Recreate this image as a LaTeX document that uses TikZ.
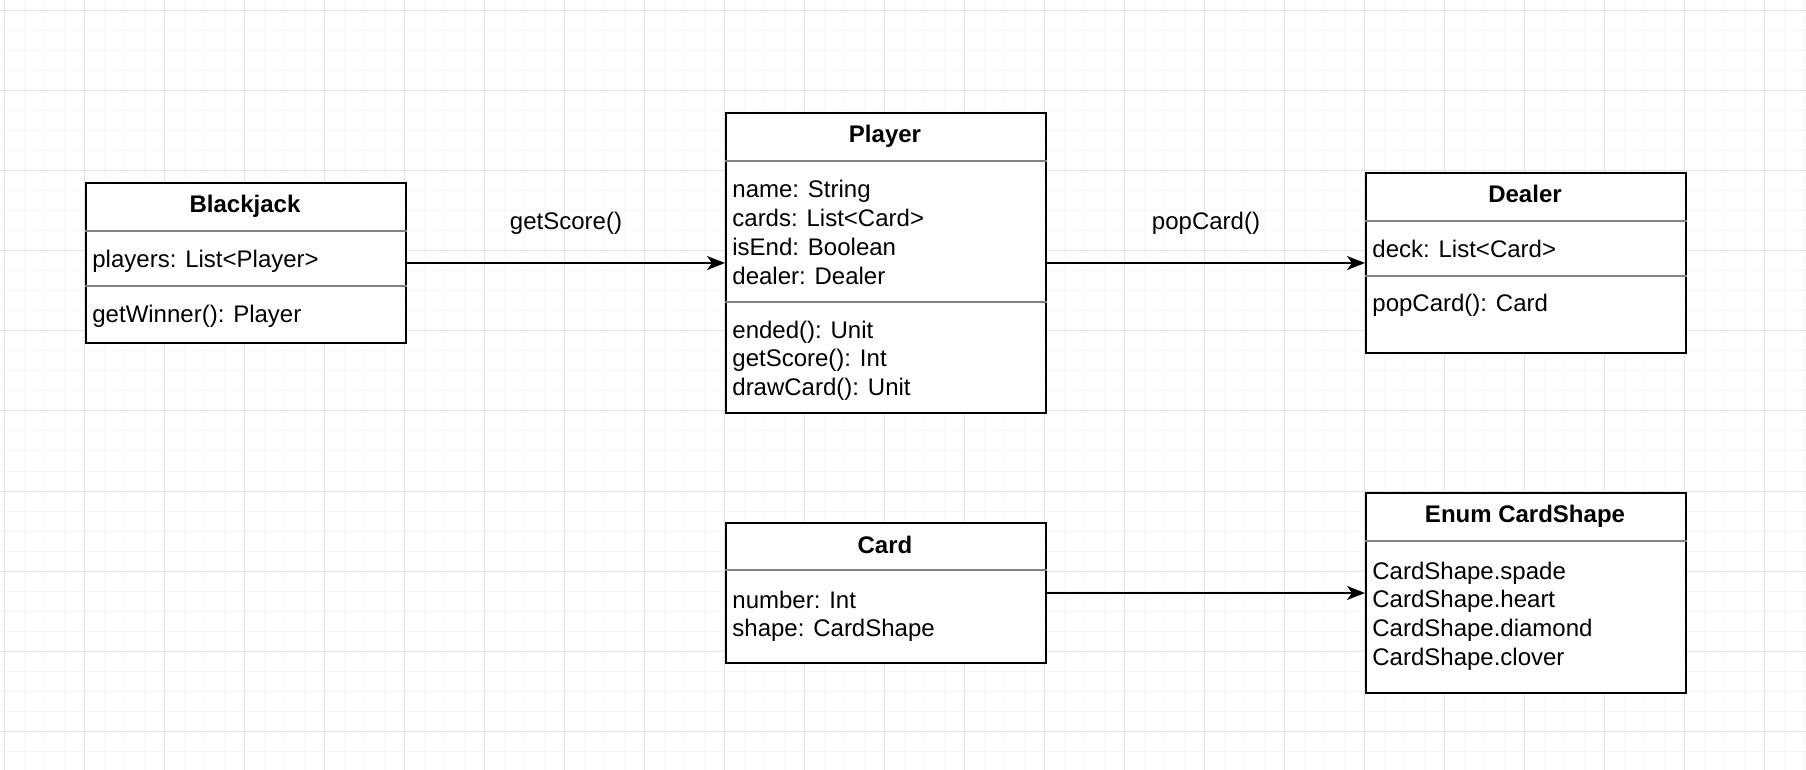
\documentclass[tikz,border=0pt]{standalone}
\usepackage{fontspec}
\setmainfont{Liberation Sans}
\usetikzlibrary{arrows.meta}

\definecolor{gridminor}{RGB}{246,246,246}
\definecolor{gridmajor}{RGB}{226,226,226}
\definecolor{sepgray}{RGB}{130,130,130}

\tikzset{
  classbox/.style={draw, line width=1pt, fill=white, anchor=north west, inner sep=0pt, minimum width=160pt},
  classname/.style={font=\bfseries\fontsize{12}{14.4}\selectfont, anchor=base, inner sep=0pt, yshift=-1pt},
  member/.style={font=\fontsize{12}{14.4}\selectfont, anchor=base west, align=left, inner sep=0pt, yshift=-1pt},
  divider/.style={draw=sepgray, line width=1pt},
  assoc/.style={-{Stealth[length=9pt,width=7pt,inset=2.5pt]}, line width=1pt},
  assoclabel/.style={font=\fontsize{12}{14.4}\selectfont, anchor=base, inner sep=0pt, yshift=16.5pt}
}

\begin{document}
\begin{tikzpicture}[x=0.5pt, y=-0.5pt]
  \useasboundingbox (0,0) rectangle (1806,770);

  % background grid
  \foreach \gx in {4,24,...,1804} \draw[gridminor, line width=0.5pt] (\gx,0) -- (\gx,770);
  \foreach \gy in {11,31,...,770} \draw[gridminor, line width=0.5pt] (0,\gy) -- (1806,\gy);
  \foreach \gx in {4,84,...,1804} \draw[gridmajor, line width=0.5pt] (\gx,0) -- (\gx,770);
  \foreach \gy in {11,91,...,770} \draw[gridmajor, line width=0.5pt] (0,\gy) -- (1806,\gy);

  % Blackjack
  \node[classbox, minimum height=80pt] (blackjack) at (85,182) {};
  \draw[divider] ([yshift=-24.5pt]blackjack.north west) -- ([yshift=-24.5pt]blackjack.north east);
  \draw[divider] ([yshift=-52pt]blackjack.north west) -- ([yshift=-52pt]blackjack.north east);
  \node[classname] (blackjackname) at (245,211) {Blackjack};
  \node[member] (blackjackattr) at (92,266) {players: List<Player>};
  \node[member] (blackjackop) at (92,321) {getWinner(): Player};

  % Player (multi-line nodes sit on their last baseline)
  \node[classbox, minimum height=150pt] (player) at (725,112) {};
  \draw[divider] ([yshift=-24.5pt]player.north west) -- ([yshift=-24.5pt]player.north east);
  \draw[divider] ([yshift=-95pt]player.north west) -- ([yshift=-95pt]player.north east);
  \node[classname] (playername) at (885,141) {Player};
  \node[member] (playerattr) at (732,282.4) {name: String\\cards: List<Card>\\isEnd: Boolean\\dealer: Dealer};
  \node[member] (playerop) at (732,393.6) {ended(): Unit\\getScore(): Int\\drawCard(): Unit};

  % Dealer
  \node[classbox, minimum height=90pt] (dealer) at (1365,172) {};
  \draw[divider] ([yshift=-24.5pt]dealer.north west) -- ([yshift=-24.5pt]dealer.north east);
  \draw[divider] ([yshift=-52pt]dealer.north west) -- ([yshift=-52pt]dealer.north east);
  \node[classname] (dealername) at (1525,201) {Dealer};
  \node[member] (dealerattr) at (1372,256) {deck: List<Card>};
  \node[member] (dealerop) at (1372,310) {popCard(): Card};

  % Card
  \node[classbox, minimum height=70pt] (card) at (725,522) {};
  \draw[divider] ([yshift=-24pt]card.north west) -- ([yshift=-24pt]card.north east);
  \node[classname] (cardname) at (885,551) {Card};
  \node[member] (cardattr) at (732,634.8) {number: Int\\shape: CardShape};

  % Enum CardShape
  \node[classbox, minimum height=100pt] (cardshape) at (1365,492) {};
  \draw[divider] ([yshift=-24.5pt]cardshape.north west) -- ([yshift=-24.5pt]cardshape.north east);
  \node[classname] (cardshapename) at (1525,521) {Enum CardShape};
  \node[member] (cardshapevalues) at (1372,663.4) {CardShape.spade\\CardShape.heart\\CardShape.diamond\\CardShape.clover};

  % associations
  \draw[assoc] (blackjack) -- (player) node[midway, assoclabel] {getScore()};
  \draw[assoc] (player) -- (dealer) node[midway, assoclabel] {popCard()};
  \draw[assoc] (card) -- (cardshape);
\end{tikzpicture}
\end{document}
